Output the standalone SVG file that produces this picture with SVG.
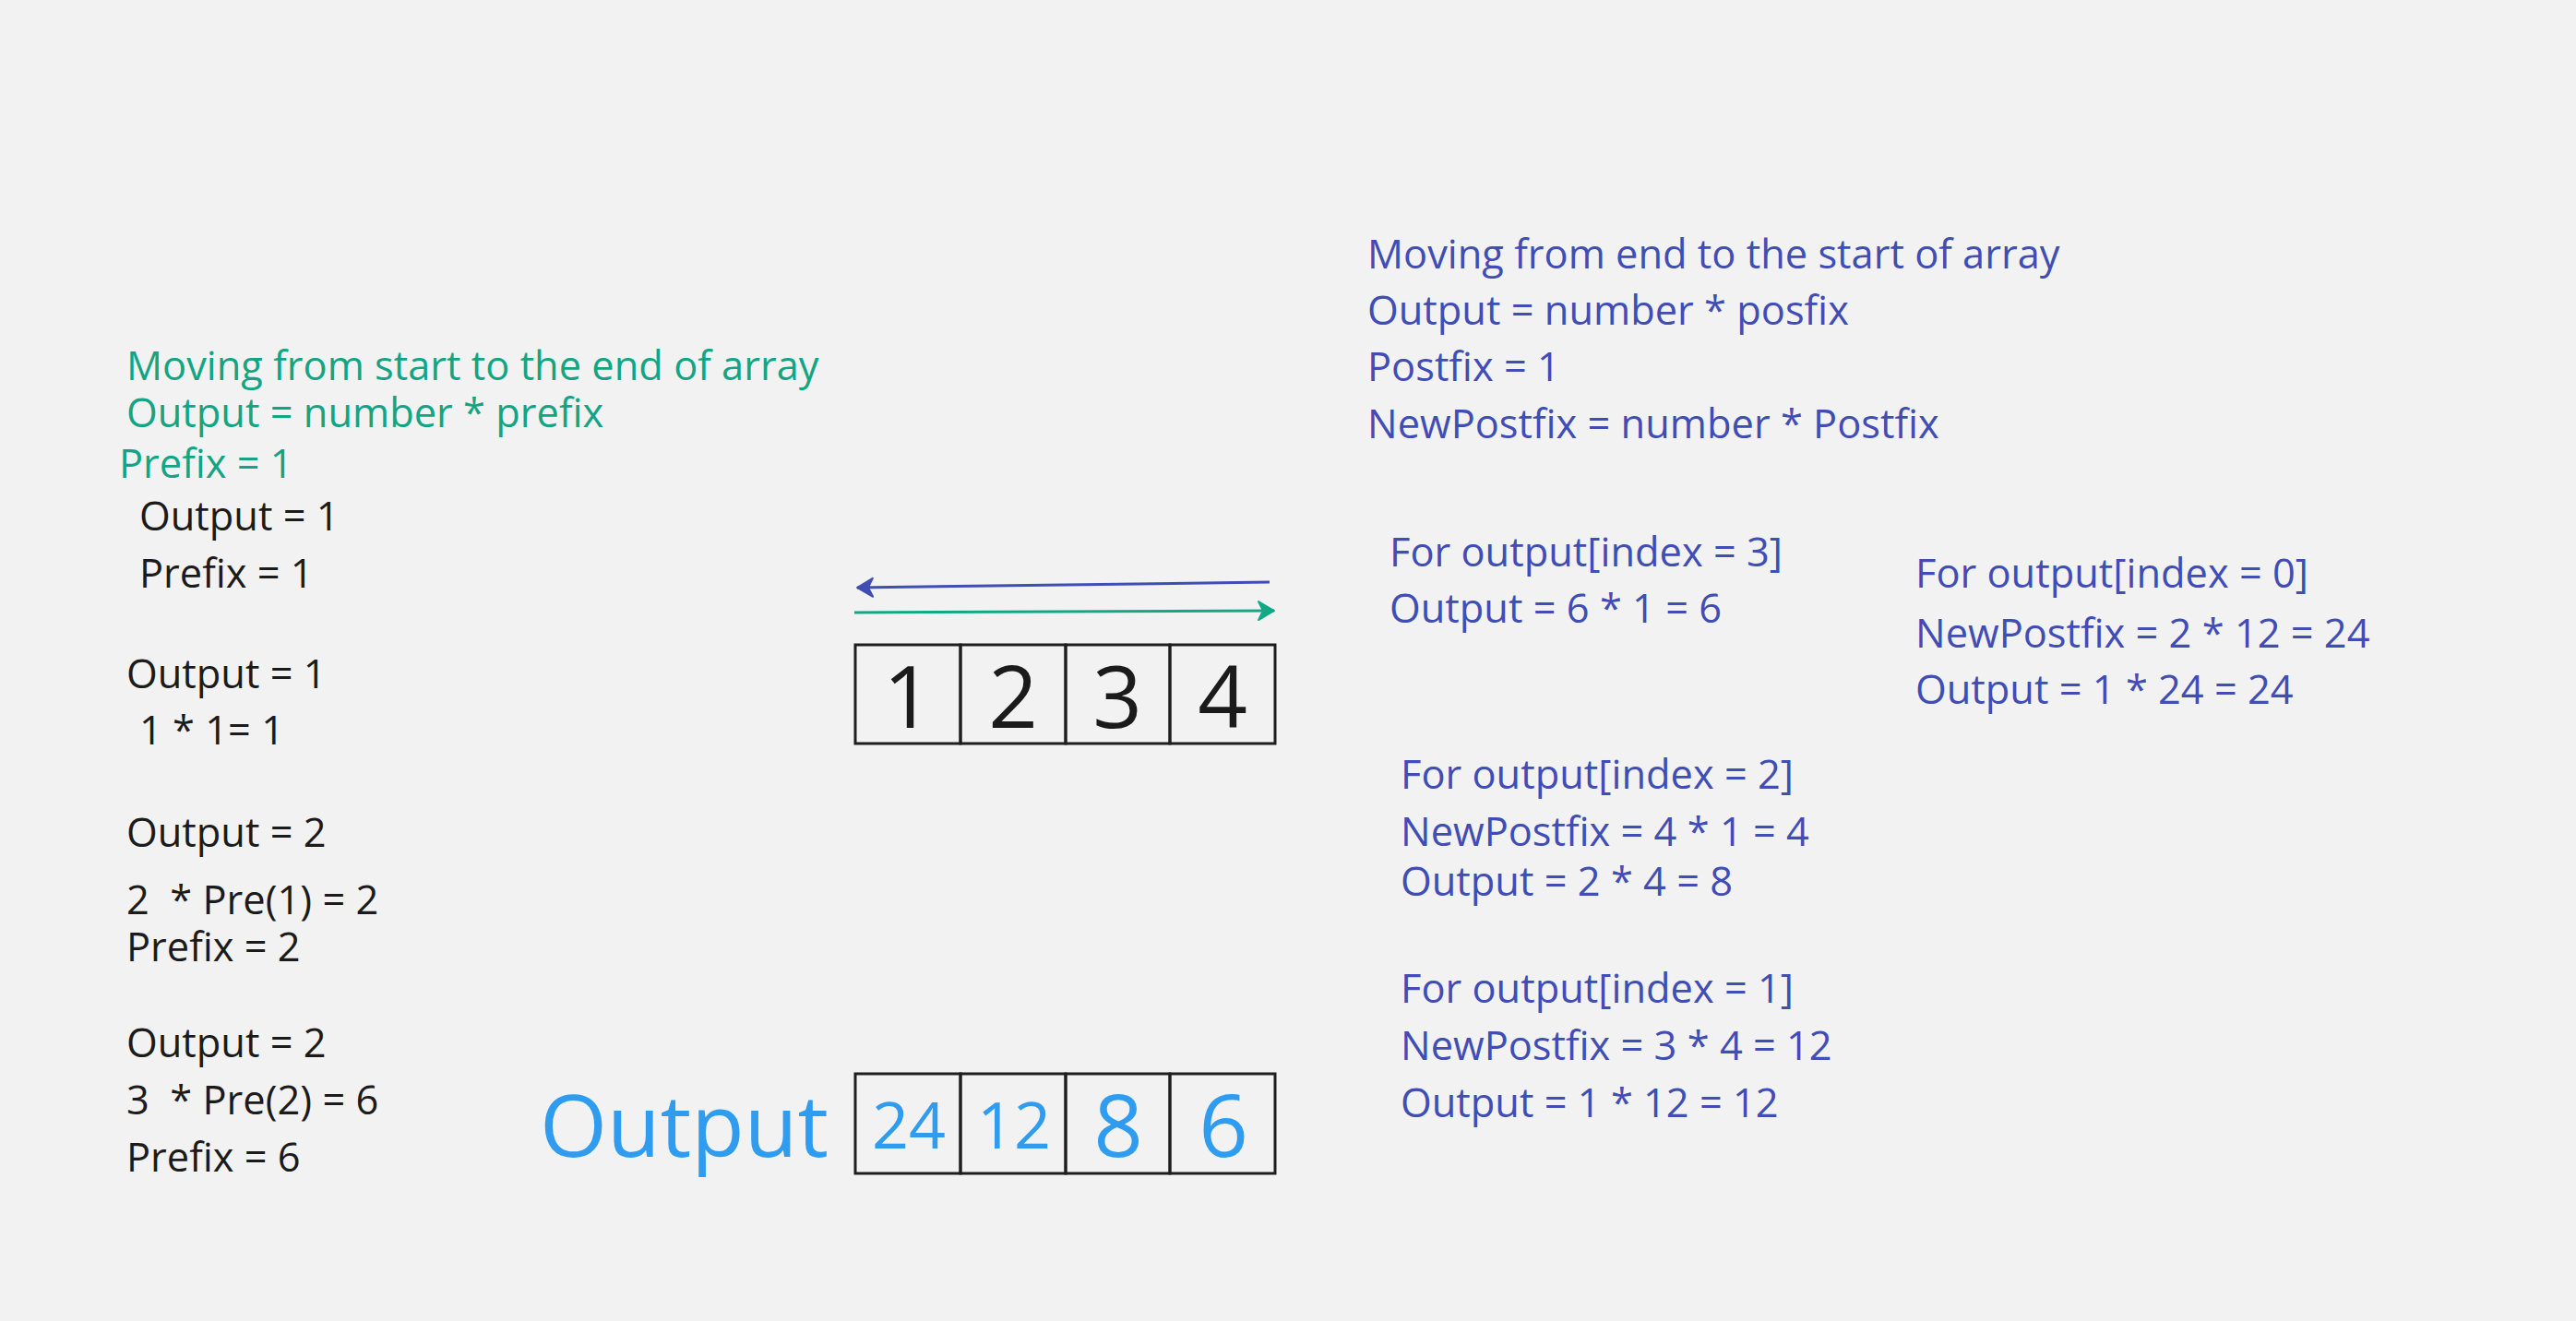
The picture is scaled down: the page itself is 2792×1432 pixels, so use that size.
<svg xmlns="http://www.w3.org/2000/svg" width="2792" height="1432" viewBox="0 0 2792 1432">
<style>
text{font-family:"Open Sans","Noto Sans","Liberation Sans",sans-serif;font-size:43.4px}
.g{fill:#13a583}
.k{fill:#1b1b1b}
.b{fill:#3f4db5}
.o{fill:#2f9cf0}
.cell{fill:none;stroke:#1e1e1e;stroke-width:3}
.d{font-size:94px;text-anchor:middle}
.s{font-size:70px;text-anchor:middle}
</style>
<defs>
<marker id="ab" markerUnits="userSpaceOnUse" markerWidth="22" markerHeight="24" refX="18" refY="11" orient="auto"><path d="M1,1 L18,11 L1,21 L6,11 Z" fill="#3f4db5" stroke="#3f4db5" stroke-width="2" stroke-linejoin="round"/></marker>
<marker id="ag" markerUnits="userSpaceOnUse" markerWidth="22" markerHeight="24" refX="18" refY="11" orient="auto"><path d="M1,1 L18,11 L1,21 L6,11 Z" fill="#12a886" stroke="#12a886" stroke-width="2" stroke-linejoin="round"/></marker>
</defs>
<rect width="2792" height="1432" fill="#f2f2f2"/>
<g id="prefix-notes">
<text class="g" x="137" y="412">Moving from start to the end of array</text>
<text class="g" x="137" y="463">Output = number * prefix</text>
<text class="g" x="129" y="518">Prefix = 1</text>
<text class="k" x="151" y="575">Output = 1</text>
<text class="k" x="151" y="637">Prefix = 1</text>
<text class="k" x="137" y="746">Output = 1</text>
<text class="k" x="151" y="807">1 * 1= 1</text>
<text class="k" x="137" y="918">Output = 2</text>
<text class="k" x="137" y="991" xml:space="preserve">2  * Pre(1) = 2</text>
<text class="k" x="137" y="1042">Prefix = 2</text>
<text class="k" x="137" y="1146">Output = 2</text>
<text class="k" x="137" y="1208" xml:space="preserve">3  * Pre(2) = 6</text>
<text class="k" x="137" y="1270">Prefix = 6</text>
</g>
<g id="postfix-notes">
<text class="b" x="1482" y="291">Moving from end to the start of array</text>
<text class="b" x="1482" y="352">Output = number * posfix</text>
<text class="b" x="1482" y="413">Postfix = 1</text>
<text class="b" x="1482" y="475">NewPostfix = number * Postfix</text>
</g>
<g id="index3">
<text class="b" x="1506" y="614">For output[index = 3]</text>
<text class="b" x="1506" y="675">Output = 6 * 1 = 6</text>
</g>
<g id="index0">
<text class="b" x="2076" y="637">For output[index = 0]</text>
<text class="b" x="2076" y="702">NewPostfix = 2 * 12 = 24</text>
<text class="b" x="2076" y="763">Output = 1 * 24 = 24</text>
</g>
<g id="index2">
<text class="b" x="1518" y="855">For output[index = 2]</text>
<text class="b" x="1518" y="917">NewPostfix = 4 * 1 = 4</text>
<text class="b" x="1518" y="971">Output = 2 * 4 = 8</text>
</g>
<g id="index1">
<text class="b" x="1518" y="1087">For output[index = 1]</text>
<text class="b" x="1518" y="1149">NewPostfix = 3 * 4 = 12</text>
<text class="b" x="1518" y="1211">Output = 1 * 12 = 12</text>
</g>
<g id="input-array">
<rect class="cell" x="927" y="699" width="114" height="107"/>
<rect class="cell" x="1041" y="699" width="114" height="107"/>
<rect class="cell" x="1155" y="699" width="113" height="107"/>
<rect class="cell" x="1268" y="699" width="114" height="107"/>
<text class="k d" x="984" y="789">1</text>
<text class="k d" x="1098" y="789">2</text>
<text class="k d" x="1211" y="789">3</text>
<text class="k d" x="1325" y="789">4</text>
</g>
<g id="output-array">
<text class="o" x="585" y="1254" style="font-size:94px">Output</text>
<rect class="cell" x="927" y="1164" width="114" height="108"/>
<rect class="cell" x="1041" y="1164" width="114" height="108"/>
<rect class="cell" x="1155" y="1164" width="113" height="108"/>
<rect class="cell" x="1268" y="1164" width="114" height="108"/>
<text class="o s" x="985" y="1245">24</text>
<text class="o s" x="1099" y="1245">12</text>
<text class="o d" x="1212" y="1254">8</text>
<text class="o d" x="1326" y="1254">6</text>
</g>
<g id="connectors" fill="none" stroke-width="3">
<line x1="1376" y1="631" x2="929" y2="637" stroke="#3f4db5" marker-end="url(#ab)"/>
<line x1="926" y1="664" x2="1381" y2="662" stroke="#12a886" marker-end="url(#ag)"/>
</g>
</svg>
